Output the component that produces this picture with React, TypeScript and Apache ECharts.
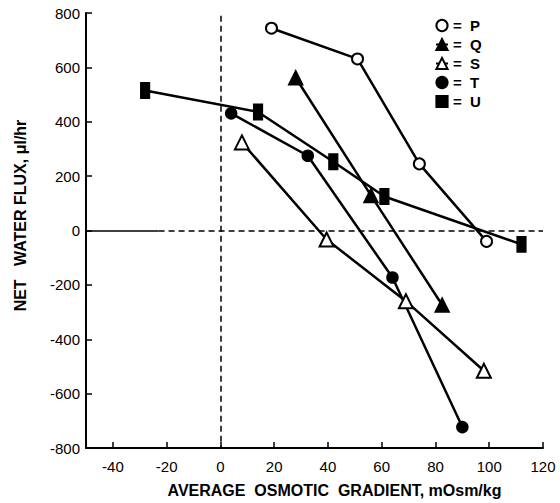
import React, { useEffect, useRef } from "react";
import * as echarts from "echarts";

const xTicks = [-40, -20, 0, 20, 40, 60, 80, 100, 120];
const yTicks = [-800, -600, -400, -200, 0, 200, 400, 600, 800];

const seriesP = [[19, 744], [51, 631], [74, 245], [99, -40]];
const seriesQ = [[28, 562], [56, 129], [82.5, -274]];
const seriesS = [[8, 324], [39.5, -33], [69, -260], [98, -516]];
const seriesT = [[4, 431], [32.5, 275], [64, -173], [90, -723]];
const seriesU = [[-28, 515], [14, 436], [42, 253], [61, 125], [112, -51]];

const names = ["P", "Q", "S", "T", "U"];

export default function App() {
  const ref = useRef<HTMLDivElement>(null);
  useEffect(() => {
    if (!ref.current) return;
    const chart = echarts.init(ref.current, null, { renderer: "svg" });
    const font = "'Liberation Sans', Arial, sans-serif";
    const line = { color: "#000", width: 2.5 };
    const mk = (name: string, data: number[][], symbol: string, size: any) => ({
      name,
      type: "line",
      data,
      symbol,
      symbolSize: size,
      showSymbol: true,
      lineStyle: line,
      itemStyle: { color: "#000", borderColor: "#000", borderWidth: 1.5 },
      z: 3,
    });
    chart.setOption({
      animation: false,
      backgroundColor: "#fff",
      grid: { left: 86, right: 17, top: 13, bottom: 52 },
      xAxis: {
        type: "value",
        min: -50,
        max: 120,
        axisLine: { onZero: false, lineStyle: { color: "#000", width: 2 } },
        axisTick: { inside: true, length: 6, customValues: xTicks, lineStyle: { color: "#000", width: 1.5 } },
        axisLabel: { customValues: xTicks, color: "#000", fontSize: 15, fontFamily: font, margin: 11 },
        splitLine: { show: false },
        name: "AVERAGE  OSMOTIC  GRADIENT, mOsm/kg",
        nameLocation: "middle",
        nameGap: 34,
        nameTextStyle: { color: "#000", fontSize: 16, fontWeight: "bold", fontFamily: font, padding: [0, 0, 0, 40] },
      },
      yAxis: {
        type: "value",
        min: -800,
        max: 800,
        interval: 200,
        axisLine: { show: true, onZero: false, lineStyle: { color: "#000", width: 2 } },
        axisTick: { show: true, inside: true, length: 6, lineStyle: { color: "#000", width: 1.5 } },
        axisLabel: { color: "#000", fontSize: 15, fontFamily: font, margin: 6 },
        splitLine: { show: false },
        name: "NET   WATER FLUX, \u03bcl/hr",
        nameLocation: "middle",
        nameRotate: 90,
        nameGap: 58,
        nameTextStyle: { color: "#000", fontSize: 16, fontWeight: "bold", fontFamily: font, padding: [0, 0, 0, 30] },
      },
      legend: {
        orient: "vertical",
        left: 430,
        top: 13,
        itemGap: 4,
        itemWidth: 12,
        itemHeight: 14,
        data: names,
        formatter: "=  {name}",
        textStyle: { color: "#000", fontSize: 15, fontWeight: "bold", fontFamily: font },
      },
      series: [
        mk("P", seriesP, "emptyCircle", 11),
        mk("Q", seriesQ, "triangle", 14),
        mk("S", seriesS, "emptyTriangle", 14),
        mk("T", seriesT, "circle", 11),
        mk("U", seriesU, "rect", [9, 15]),
        {
          name: "ref",
          type: "line",
          data: [],
          markLine: {
            silent: true,
            symbol: "none",
            label: { show: false },
            lineStyle: { color: "#000", width: 1.5, type: [6, 4] },
            data: [
              [{ coord: [0, 790] }, { coord: [0, -800] }],
              [{ coord: [-50, 0], lineStyle: { type: "solid", width: 1.5, color: "#000" } }, { coord: [-23, 0] }],
              [{ coord: [-23, 0] }, { coord: [120, 0] }],
            ],
          },
        },
      ],
    });
    return () => chart.dispose();
  }, []);
  return <div ref={ref} style={{ position: "fixed", left: 0, top: 0, width: 560, height: 503 }} />;
}
